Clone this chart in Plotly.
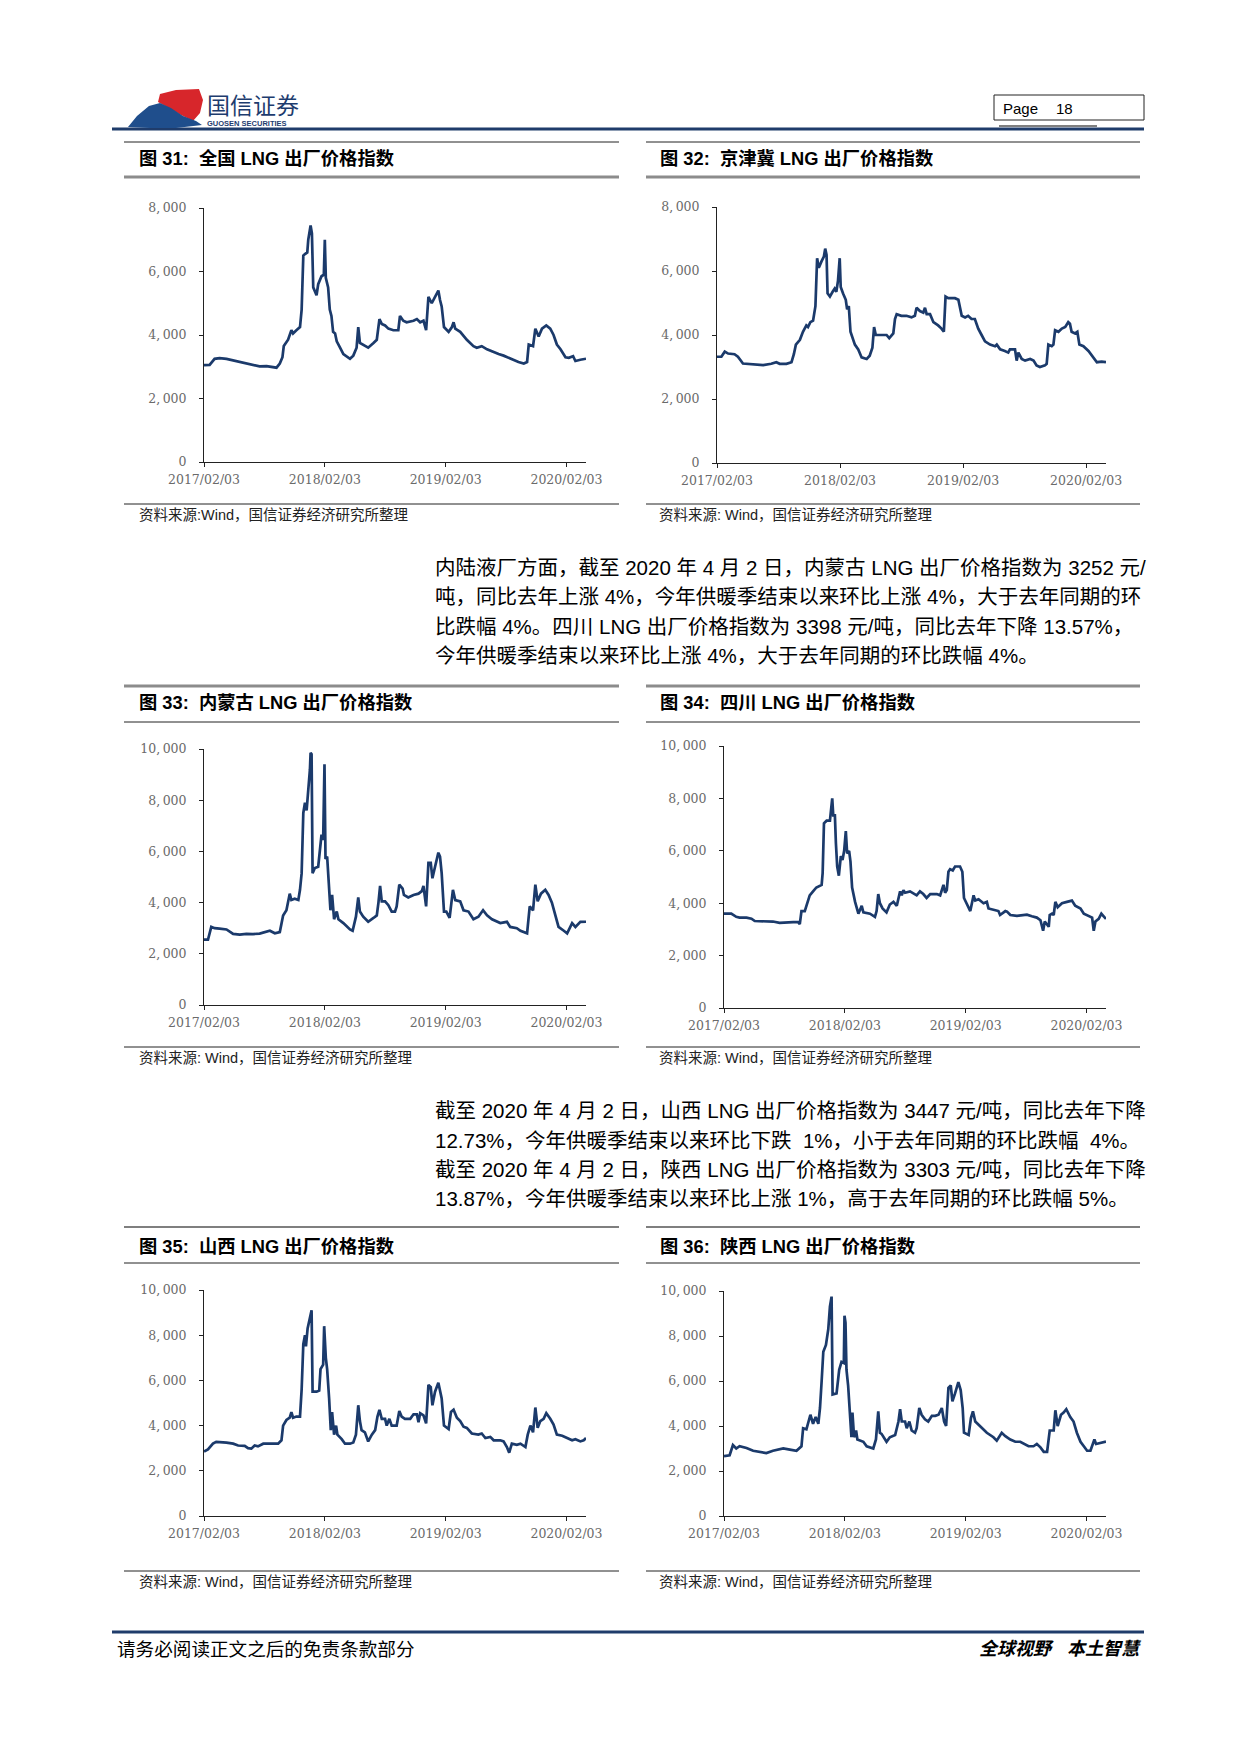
import plotly.graph_objects as go

# ---------------- DATA ----------------
x_tick_vals = ["2017-02-03", "2018-02-03", "2019-02-03", "2020-02-03"]
x_tick_text = ["2017/02/03", "2018/02/03", "2019/02/03", "2020/02/03"]
y_ticks_8k = [0, 2000, 4000, 6000, 8000]
y_ticks_10k = [0, 2000, 4000, 6000, 8000, 10000]

dates_quanguo = ["2017-02-03","2017-02-20","2017-03-07","2017-03-22","2017-04-12","2017-05-02","2017-05-22","2017-06-11","2017-07-01","2017-07-21",
    "2017-08-11","2017-08-31","2017-09-10","2017-09-20","2017-09-28","2017-10-02","2017-10-15","2017-10-25","2017-10-30","2017-11-09",
    "2017-11-20","2017-11-25","2017-11-30","2017-12-05","2017-12-12","2017-12-15","2017-12-22","2017-12-26","2017-12-30","2018-01-09",
    "2018-01-14","2018-01-24","2018-01-31","2018-02-03","2018-02-06","2018-02-13","2018-02-18","2018-02-23","2018-02-28","2018-03-06",
    "2018-03-11","2018-03-21","2018-03-31","2018-04-20","2018-04-30","2018-05-10","2018-05-15","2018-05-20","2018-05-30","2018-06-14",
    "2018-06-30","2018-07-10","2018-07-18","2018-07-25","2018-08-04","2018-08-14","2018-08-29","2018-09-13","2018-09-18","2018-09-28",
    "2018-10-08","2018-10-29","2018-11-08","2018-11-18","2018-11-28","2018-12-06","2018-12-13","2018-12-23","2019-01-02","2019-01-12",
    "2019-01-17","2019-01-22","2019-01-29","2019-02-12","2019-02-22","2019-02-27","2019-03-04","2019-03-19","2019-04-08","2019-04-28",
    "2019-05-08","2019-05-23","2019-06-08","2019-06-28","2019-07-13","2019-07-28","2019-08-17","2019-09-01","2019-09-11","2019-09-27",
    "2019-10-07","2019-10-12","2019-10-25","2019-11-01","2019-11-11","2019-11-21","2019-12-04","2019-12-16","2019-12-26","2020-01-05",
    "2020-01-16","2020-01-31","2020-02-10","2020-02-23","2020-03-01","2020-03-16","2020-04-02"]
price_quanguo = [3050,3060,3250,3270,3250,3200,3150,3110,3050,3010,
    3020,2990,2970,3100,3300,3650,3850,4150,4050,4150,
    4250,4800,6500,6550,6600,7000,7450,7200,5500,5250,
    5600,5850,5900,7000,5800,5500,4800,4600,4100,4050,
    3800,3600,3400,3250,3350,3600,4250,3750,3700,3600,
    3750,3850,4500,4350,4300,4200,4150,4150,4600,4450,
    4400,4450,4500,4400,4450,4150,5200,5000,5200,5400,
    5100,4900,4250,4100,4250,4400,4200,4100,3850,3650,
    3600,3650,3550,3450,3400,3350,3250,3200,3150,3100,
    3150,3700,3650,4200,3950,4200,4300,4200,4000,3700,
    3550,3300,3280,3330,3180,3220,3252]

dates_jingjinji = ["2017-02-03","2017-02-16","2017-02-26","2017-03-08","2017-03-27","2017-04-06","2017-04-21","2017-05-11","2017-05-31","2017-06-20",
    "2017-07-14","2017-07-29","2017-08-08","2017-08-28","2017-09-12","2017-09-19","2017-09-25","2017-10-07","2017-10-16","2017-10-26",
    "2017-10-31","2017-11-07","2017-11-15","2017-11-22","2017-11-27","2017-12-02","2017-12-10","2017-12-17","2017-12-21","2017-12-25",
    "2017-12-28","2018-01-04","2018-01-12","2018-01-18","2018-01-23","2018-01-28","2018-02-02","2018-02-05","2018-02-12","2018-02-20",
    "2018-02-24","2018-03-01","2018-03-06","2018-03-11","2018-03-19","2018-03-29","2018-04-08","2018-04-23","2018-05-02","2018-05-10",
    "2018-05-15","2018-05-20","2018-06-01","2018-06-21","2018-06-29","2018-07-11","2018-07-16","2018-07-21","2018-08-04","2018-08-19",
    "2018-09-03","2018-09-13","2018-09-18","2018-09-28","2018-10-08","2018-10-13","2018-10-18","2018-10-28","2018-11-07","2018-11-21",
    "2018-12-01","2018-12-08","2018-12-13","2018-12-21","2019-01-10","2019-01-20","2019-01-30","2019-02-09","2019-02-18","2019-02-28",
    "2019-03-10","2019-03-20","2019-03-30","2019-04-09","2019-04-24","2019-05-09","2019-05-14","2019-05-24","2019-06-07","2019-06-17",
    "2019-06-22","2019-07-07","2019-07-12","2019-07-17","2019-07-27","2019-08-06","2019-08-21","2019-08-31","2019-09-09","2019-09-19",
    "2019-10-04","2019-10-09","2019-10-14","2019-10-24","2019-10-29","2019-11-03","2019-11-13","2019-11-23","2019-12-03","2019-12-12",
    "2019-12-17","2019-12-22","2020-01-01","2020-01-08","2020-01-14","2020-01-26","2020-02-10","2020-02-25","2020-03-06","2020-03-20",
    "2020-04-02"]
price_jingjinji = [3320,3320,3480,3420,3400,3320,3110,3100,3080,3060,
    3100,3150,3100,3100,3150,3400,3700,3850,4100,4300,
    4250,4400,4450,4900,6400,6100,6300,6450,6700,6500,
    5300,5200,5350,5450,5350,5700,6400,5500,5300,5100,
    4800,4900,4100,3950,3700,3550,3300,3250,3350,3600,
    4250,4000,4000,4000,3900,4050,4500,4650,4600,4600,
    4550,4600,4850,4750,4700,4850,4650,4650,4400,4300,
    4200,4100,5200,5150,5150,5100,4600,4550,4600,4500,
    4500,4200,4000,3800,3700,3650,3700,3550,3500,3450,
    3550,3550,3200,3450,3250,3200,3250,3200,3050,3000,
    3050,3100,3700,3650,3700,4150,4100,4200,4250,4400,
    4350,4100,4050,4100,3700,3650,3500,3300,3150,3170,
    3150]

dates_neimenggu = ["2017-02-03","2017-02-15","2017-02-25","2017-03-07","2017-03-22","2017-04-12","2017-05-02","2017-05-22","2017-06-11","2017-07-01",
    "2017-07-21","2017-08-11","2017-08-21","2017-09-05","2017-09-20","2017-09-30","2017-10-10","2017-10-20","2017-10-25","2017-11-04",
    "2017-11-15","2017-11-20","2017-11-25","2017-11-30","2017-12-05","2017-12-10","2017-12-15","2017-12-20","2017-12-22","2017-12-25",
    "2017-12-28","2018-01-04","2018-01-14","2018-01-19","2018-01-24","2018-01-29","2018-02-02","2018-02-05","2018-02-10","2018-02-15",
    "2018-02-20","2018-02-25","2018-03-03","2018-03-11","2018-03-16","2018-03-31","2018-04-20","2018-04-28","2018-05-08","2018-05-15",
    "2018-05-20","2018-05-30","2018-06-14","2018-06-30","2018-07-10","2018-07-15","2018-07-20","2018-07-25","2018-08-04","2018-08-14",
    "2018-08-24","2018-09-03","2018-09-08","2018-09-16","2018-09-26","2018-09-30","2018-10-13","2018-10-29","2018-11-13","2018-11-23",
    "2018-11-28","2018-12-06","2018-12-13","2018-12-20","2018-12-25","2019-01-02","2019-01-12","2019-01-17","2019-01-22","2019-01-29",
    "2019-02-05","2019-02-15","2019-02-25","2019-03-04","2019-03-19","2019-03-29","2019-04-13","2019-04-28","2019-05-13","2019-05-27",
    "2019-06-08","2019-06-23","2019-07-18","2019-08-07","2019-08-17","2019-09-06","2019-09-17","2019-10-07","2019-10-15","2019-10-25",
    "2019-11-01","2019-11-08","2019-11-18","2019-12-01","2019-12-11","2019-12-21","2019-12-31","2020-01-10","2020-01-26","2020-02-05",
    "2020-02-20","2020-03-01","2020-03-16","2020-04-02"]
price_neimenggu = [2550,2550,3050,3000,2980,2950,2780,2750,2780,2770,
    2790,2850,2900,2800,2850,3500,3700,4350,4100,4150,
    4100,4500,5150,7500,7900,7600,8350,9200,9850,9800,
    5150,5350,5400,6050,6650,6450,9400,5700,5800,4750,
    3700,4300,3350,3650,3350,3200,2950,2900,3450,4200,
    3650,3450,3250,3400,3500,4000,4650,4050,4050,3900,
    3650,3650,3850,4700,4550,4300,4200,4300,4350,4450,
    4650,3850,5550,5550,4950,5400,5950,5800,5150,3650,
    3650,3400,4500,4100,4050,3700,3650,3350,3450,3700,
    3500,3350,3200,3250,3050,3000,2900,2800,3850,3700,
    4700,4050,4350,4500,4300,4000,3500,3050,2900,2800,
    3200,3050,3250,3252]

dates_sichuan = ["2017-02-03","2017-02-25","2017-03-12","2017-03-22","2017-04-12","2017-04-27","2017-05-07","2017-06-01","2017-07-01","2017-07-21",
    "2017-08-11","2017-08-31","2017-09-15","2017-09-20","2017-09-25","2017-10-05","2017-10-10","2017-10-20","2017-10-30","2017-11-09",
    "2017-11-25","2017-11-28","2017-12-02","2017-12-10","2017-12-20","2017-12-23","2017-12-27","2017-12-30","2018-01-04","2018-01-07",
    "2018-01-11","2018-01-16","2018-01-22","2018-01-27","2018-02-01","2018-02-06","2018-02-10","2018-02-16","2018-02-20","2018-02-25",
    "2018-03-06","2018-03-16","2018-03-21","2018-03-26","2018-03-31","2018-04-20","2018-05-05","2018-05-10","2018-05-15","2018-05-20",
    "2018-05-28","2018-06-09","2018-06-19","2018-06-30","2018-07-10","2018-07-15","2018-07-20","2018-07-25","2018-07-30","2018-08-04",
    "2018-08-19","2018-09-08","2018-09-18","2018-09-28","2018-10-08","2018-10-19","2018-11-08","2018-11-18","2018-11-28","2018-12-03",
    "2018-12-08","2018-12-13","2018-12-18","2018-12-26","2019-01-02","2019-01-17","2019-01-24","2019-01-29","2019-02-07","2019-02-17",
    "2019-02-27","2019-03-04","2019-03-14","2019-03-29","2019-04-08","2019-04-13","2019-04-28","2019-05-13","2019-05-18","2019-06-03",
    "2019-06-08","2019-06-18","2019-07-08","2019-07-23","2019-08-07","2019-08-22","2019-09-06","2019-09-17","2019-09-22","2019-09-25",
    "2019-09-30","2019-10-05","2019-10-12","2019-10-15","2019-10-22","2019-10-27","2019-11-01","2019-11-08","2019-11-21","2019-12-06",
    "2019-12-21","2019-12-31","2020-01-16","2020-01-26","2020-02-10","2020-02-20","2020-02-25","2020-03-01","2020-03-11","2020-03-19",
    "2020-03-26","2020-04-02"]
price_sichuan = [3600,3600,3480,3450,3450,3410,3320,3300,3300,3250,
    3280,3280,3280,3200,3700,3700,3900,4300,4450,4600,
    4700,5150,7050,7150,7150,7500,8000,7350,7350,6300,
    5400,5050,5800,5650,6000,6750,5900,6000,5600,4600,
    4050,3600,3750,3900,3650,3600,3480,3700,4350,4000,
    3800,3650,3950,4050,3900,4200,4450,4300,4500,4400,
    4450,4300,4450,4350,4200,4350,4350,4300,4700,4400,
    4500,5200,5300,5250,5400,5400,5200,4200,3950,3700,
    4300,4100,4150,4000,4050,3800,3750,3700,3550,3700,
    3680,3550,3520,3550,3560,3500,3450,3350,3100,2950,
    3300,3200,3100,3550,3600,3550,4050,3850,4000,4050,
    4100,3900,3800,3600,3500,3450,2950,3300,3400,3600,
    3500,3398]

dates_shanxi = ["2017-02-03","2017-02-15","2017-03-02","2017-03-12","2017-04-12","2017-05-02","2017-05-17","2017-06-06","2017-06-16","2017-06-26",
    "2017-07-06","2017-07-16","2017-08-01","2017-08-31","2017-09-15","2017-09-25","2017-09-30","2017-10-10","2017-10-20","2017-10-25",
    "2017-10-30","2017-11-09","2017-11-20","2017-11-25","2017-11-30","2017-12-05","2017-12-08","2017-12-13","2017-12-20","2017-12-25",
    "2017-12-28","2018-01-09","2018-01-17","2018-01-21","2018-01-29","2018-02-01","2018-02-06","2018-02-10","2018-02-16","2018-02-21",
    "2018-02-25","2018-03-03","2018-03-09","2018-03-13","2018-03-26","2018-04-05","2018-04-20","2018-04-30","2018-05-08","2018-05-15",
    "2018-05-20","2018-05-25","2018-06-04","2018-06-14","2018-06-25","2018-07-05","2018-07-12","2018-07-18","2018-07-25","2018-08-04",
    "2018-08-09","2018-08-17","2018-08-24","2018-09-08","2018-09-16","2018-09-23","2018-10-03","2018-10-19","2018-10-29","2018-11-08",
    "2018-11-13","2018-11-18","2018-11-28","2018-12-06","2018-12-13","2018-12-20","2018-12-25","2019-01-02","2019-01-12","2019-01-17",
    "2019-01-22","2019-01-29","2019-02-12","2019-02-19","2019-02-27","2019-03-09","2019-03-19","2019-03-29","2019-04-08","2019-04-23",
    "2019-05-13","2019-05-23","2019-06-03","2019-06-18","2019-06-28","2019-07-18","2019-07-28","2019-08-07","2019-08-14","2019-08-22",
    "2019-09-06","2019-09-17","2019-10-02","2019-10-09","2019-10-17","2019-10-25","2019-11-01","2019-11-08","2019-11-16","2019-11-26",
    "2019-12-04","2019-12-16","2019-12-26","2020-01-05","2020-01-21","2020-02-05","2020-02-20","2020-03-01","2020-03-16","2020-03-26",
    "2020-04-02"]
price_shanxi = [2850,2950,3200,3280,3250,3200,3120,3100,3000,2980,
    3120,3080,3200,3200,3200,3350,4000,4250,4350,4600,
    4350,4400,4400,5600,7600,8000,7500,8300,8800,9100,
    5500,5500,5550,6500,6700,8400,7000,6500,5200,3800,
    4600,3600,4000,3600,3400,3200,3200,3250,3600,4900,
    4200,3800,3700,3300,3600,3800,4400,4700,4300,4300,
    4000,4300,4000,4000,4650,4400,4300,4300,4500,4500,
    4150,4550,4450,4100,5800,5700,4900,5500,5900,5600,
    5200,4000,3850,4600,4700,4350,4200,3950,3900,3650,
    3600,3650,3450,3500,3350,3350,3300,3050,2800,3200,
    3150,3200,3050,3600,4000,3700,4800,3900,4200,4300,
    4550,4300,4050,3600,3550,3450,3350,3400,3300,3350,
    3447]

dates_shaanxi = ["2017-02-03","2017-02-20","2017-03-02","2017-03-12","2017-03-22","2017-04-12","2017-05-02","2017-05-22","2017-06-11","2017-07-01",
    "2017-08-01","2017-08-21","2017-09-10","2017-09-25","2017-09-30","2017-10-10","2017-10-22","2017-10-30","2017-11-07","2017-11-15",
    "2017-11-20","2017-11-25","2017-11-30","2017-12-08","2017-12-15","2017-12-20","2017-12-25","2017-12-28","2018-01-09","2018-01-17",
    "2018-01-24","2018-01-31","2018-02-02","2018-02-05","2018-02-08","2018-02-13","2018-02-18","2018-02-23","2018-02-26","2018-03-03",
    "2018-03-09","2018-03-13","2018-03-31","2018-04-10","2018-04-30","2018-05-08","2018-05-15","2018-05-20","2018-05-25","2018-06-09",
    "2018-06-19","2018-07-05","2018-07-15","2018-07-20","2018-07-25","2018-08-04","2018-08-09","2018-08-17","2018-08-24","2018-09-03",
    "2018-09-08","2018-09-16","2018-09-23","2018-10-03","2018-10-13","2018-10-24","2018-11-03","2018-11-13","2018-11-23","2018-11-30",
    "2018-12-06","2018-12-13","2018-12-20","2018-12-25","2019-01-02","2019-01-12","2019-01-19","2019-01-25","2019-01-29","2019-02-12",
    "2019-02-19","2019-02-25","2019-03-04","2019-03-19","2019-03-29","2019-04-08","2019-04-28","2019-05-08","2019-05-23","2019-06-03",
    "2019-06-18","2019-07-03","2019-07-18","2019-08-02","2019-08-12","2019-08-27","2019-09-06","2019-09-17","2019-09-27","2019-10-07",
    "2019-10-15","2019-10-27","2019-11-01","2019-11-08","2019-11-18","2019-11-26","2019-12-04","2019-12-16","2019-12-26","2020-01-05",
    "2020-01-16","2020-01-26","2020-02-05","2020-02-15","2020-02-23","2020-02-27","2020-03-03","2020-03-16","2020-04-02"]
price_shaanxi = [2660,2700,3150,3000,3100,3020,2900,2850,2800,2900,
    3000,2950,2900,3100,3900,3850,4500,4100,4400,4100,
    4800,6000,7300,7600,8300,9300,9750,5400,5450,6500,
    6850,6800,8900,8600,6500,5800,4700,3500,4600,3500,
    3800,3400,3300,3100,3000,3400,4650,3700,3650,3300,
    3500,3600,4200,4750,4200,4200,3900,4200,3800,3700,
    3900,4800,4500,4300,4200,4450,4450,4500,4800,4200,
    4000,5700,5800,5100,5450,5950,5600,4800,3700,3600,
    4350,4650,4200,4000,3850,3700,3500,3350,3700,3550,
    3400,3300,3300,3200,3100,3100,3200,3050,2850,2850,
    3800,3800,4700,4000,4500,4600,4750,4400,4200,3700,
    3300,3100,2900,2900,3300,3400,3200,3250,3303]

# ---------------- PAGE GEOMETRY ----------------
W, H = 1241, 1754


def fx(x):
    return x / W


def fy(y):
    return 1 - y / H


LINE_COLOR = "#1b3a6b"
CJK = "Liberation Sans, Arial, Noto Sans CJK SC, sans-serif"
TICKFONT = dict(family="DejaVu Serif, Liberation Serif, serif", size=12.5, color="#6a6a6a")

charts = [
    dict(dates=dates_quanguo, vals=price_quanguo, x0=204, x1=586, ytop=208, ybot=462, ymax=8000, yt=y_ticks_8k,
         title="图 31:\u00a0 全国 LNG 出厂价格指数", tx=137, ty=159,
         cap="资料来源:Wind，国信证券经济研究所整理", cx=137, cy=515, lx0=124, lx1=619, ly=504),
    dict(dates=dates_jingjinji, vals=price_jingjinji, x0=717, x1=1106, ytop=207, ybot=463, ymax=8000, yt=y_ticks_8k,
         title="图 32:\u00a0 京津冀 LNG 出厂价格指数", tx=658, ty=159,
         cap="资料来源: Wind，国信证券经济研究所整理", cx=657, cy=515, lx0=646, lx1=1140, ly=504),
    dict(dates=dates_neimenggu, vals=price_neimenggu, x0=204, x1=586, ytop=749, ybot=1005, ymax=10000, yt=y_ticks_10k,
         title="图 33:\u00a0 内蒙古 LNG 出厂价格指数", tx=137, ty=703,
         cap="资料来源: Wind，国信证券经济研究所整理", cx=137, cy=1058, lx0=124, lx1=619, ly=1047),
    dict(dates=dates_sichuan, vals=price_sichuan, x0=724, x1=1106, ytop=746, ybot=1008, ymax=10000, yt=y_ticks_10k,
         title="图 34:\u00a0 四川 LNG 出厂价格指数", tx=658, ty=703,
         cap="资料来源: Wind，国信证券经济研究所整理", cx=657, cy=1058, lx0=646, lx1=1140, ly=1047),
    dict(dates=dates_shanxi, vals=price_shanxi, x0=204, x1=586, ytop=1290, ybot=1516, ymax=10000, yt=y_ticks_10k,
         title="图 35:\u00a0 山西 LNG 出厂价格指数", tx=137, ty=1246,
         cap="资料来源: Wind，国信证券经济研究所整理", cx=137, cy=1582, lx0=124, lx1=619, ly=1571),
    dict(dates=dates_shaanxi, vals=price_shaanxi, x0=724, x1=1106, ytop=1291, ybot=1516, ymax=10000, yt=y_ticks_10k,
         title="图 36:\u00a0 陕西 LNG 出厂价格指数", tx=658, ty=1246,
         cap="资料来源: Wind，国信证券经济研究所整理", cx=657, cy=1582, lx0=646, lx1=1140, ly=1571),
]

fig = go.Figure()
layout = dict(
    width=W, height=H, margin=dict(l=0, r=0, t=0, b=0, pad=0, autoexpand=False),
    paper_bgcolor="white", plot_bgcolor="rgba(0,0,0,0)",
    showlegend=False, font=dict(family=CJK, color="black"),
)
annotations = []
shapes = []


def hline(x0, x1, y, color="black", width=1):
    shapes.append(dict(type="line", xref="paper", yref="paper", x0=fx(x0), x1=fx(x1),
                       y0=fy(y), y1=fy(y), line=dict(color=color, width=width)))


def text(s, x, y, size, xanchor="left", bold=False, italic=False, color="black", family=CJK):
    t = s
    if bold:
        t = "<b>" + t + "</b>"
    if italic:
        t = "<i>" + t + "</i>"
    annotations.append(dict(text=t, x=fx(x), y=fy(y), xref="paper", yref="paper", showarrow=False,
                            xanchor=xanchor, yanchor="middle", font=dict(size=size, color=color, family=family)))


def fmt_tick(v):
    return "{:,}".format(v).replace(",", ",\u2009")


for i, c in enumerate(charts, start=1):
    if len(c["dates"]) != len(c["vals"]):
        raise ValueError(f"chart {i}: {len(c['dates'])} dates vs {len(c['vals'])} values")
    sfx = "" if i == 1 else str(i)
    fig.add_trace(go.Scatter(x=c["dates"], y=c["vals"], mode="lines", xaxis="x" + sfx, yaxis="y" + sfx,
                             line=dict(color=LINE_COLOR, width=2.7), hoverinfo="skip"))
    layout["xaxis" + sfx] = dict(
        domain=[fx(c["x0"]), fx(c["x1"])], anchor="y" + sfx, type="date", automargin=False,
        range=["2017-02-03", "2020-04-02"], tickmode="array", tickvals=x_tick_vals, ticktext=x_tick_text,
        showline=True, linecolor="#222222", linewidth=1, ticks="outside", ticklen=4, tickcolor="#222222",
        showgrid=False, zeroline=False, tickfont=TICKFONT, fixedrange=True, ticklabelstandoff=2)
    layout["yaxis" + sfx] = dict(
        domain=[fy(c["ybot"]), fy(c["ytop"])], anchor="x" + sfx, range=[0, c["ymax"]], automargin=False,
        tickmode="array", tickvals=c["yt"], ticktext=[fmt_tick(v) for v in c["yt"]],
        showline=True, linecolor="#222222", linewidth=1, ticks="outside", ticklen=4, tickcolor="#222222",
        showgrid=False, zeroline=False, tickfont=TICKFONT, fixedrange=True, ticklabelstandoff=10)
    text(c["title"], c["tx"], c["ty"], 18.3, bold=True)
    text(c["cap"], c["cx"], c["cy"], 14.5, color="#222222")
    hline(c["lx0"], c["lx1"], c["ly"], "#222222", 1)

for (lx0, lx1) in [(124, 619), (646, 1140)]:
    hline(lx0, lx1, 142, "#222222", 1)
    hline(lx0, lx1, 177, "#8c8c8c", 3)
    hline(lx0, lx1, 686, "#8c8c8c", 3)
    hline(lx0, lx1, 722, "#222222", 1)
    hline(lx0, lx1, 1227, "#555555", 1.5)
    hline(lx0, lx1, 1263, "#222222", 1)

para1 = [
    "内陆液厂方面，截至 2020 年 4 月 2 日，内蒙古 LNG 出厂价格指数为 3252 元/",
    "吨，同比去年上涨 4%，今年供暖季结束以来环比上涨 4%，大于去年同期的环",
    "比跌幅 4%。四川 LNG 出厂价格指数为 3398 元/吨，同比去年下降 13.57%，",
    "今年供暖季结束以来环比上涨 4%，大于去年同期的环比跌幅 4%。",
]
para2 = [
    "截至 2020 年 4 月 2 日，山西 LNG 出厂价格指数为 3447 元/吨，同比去年下降",
    "12.73%，今年供暖季结束以来环比下跌\u00a0 1%，小于去年同期的环比跌幅\u00a0 4%。",
    "截至 2020 年 4 月 2 日，陕西 LNG 出厂价格指数为 3303 元/吨，同比去年下降",
    "13.87%，今年供暖季结束以来环比上涨 1%，高于去年同期的环比跌幅 5%。",
]
for s, y in zip(para1, [567, 596, 626, 655]):
    text(s, 433, y, 20.5)
for s, y in zip(para2, [1110, 1140, 1169, 1198]):
    text(s, 433, y, 20.5)

hline(112, 1144, 129, "#1f3c6b", 3)
hline(999, 1097, 126, "#555555", 1.5)
shapes.append(dict(type="rect", xref="paper", yref="paper", x0=fx(994), x1=fx(1144), y0=fy(120), y1=fy(95),
                   line=dict(color="#222222", width=1), fillcolor="white"))
text("Page", 1001, 108, 15, family="Liberation Sans, Arial")
text("18", 1054, 108, 15, family="Liberation Sans, Arial")


def poly(points, color):
    d = "M " + " L ".join(f"{fx(x):.5f},{fy(y):.5f}" for x, y in points) + " Z"
    shapes.append(dict(type="path", xref="paper", yref="paper", path=d, fillcolor=color, line=dict(width=0)))


poly([(160, 94), (176, 90), (199, 89), (203, 100), (200, 113), (193, 121), (181, 115), (169, 108), (158, 102)], "#d7262b")
poly([(128, 127), (137, 116), (149, 106), (160, 103), (171, 108), (183, 116), (196, 121), (202, 125), (176, 128), (150, 128)], "#1f4e8c")
text("国信证券", 205, 104, 23, color="#1d3c6e", family="Noto Sans CJK SC")
text("GUOSEN SECURITIES", 205, 123, 7.5, bold=True, color="#1d3c6e", family="Liberation Sans Narrow, Liberation Sans")

hline(112, 1144, 1632, "#1f3c6b", 3)
text("请务必阅读正文之后的免责条款部分", 115, 1649, 18.6)
text("全球视野", 977, 1649, 18, bold=True, italic=True)
text("本土智慧", 1144, 1649, 18, xanchor="right", bold=True, italic=True)

layout["annotations"] = annotations
layout["shapes"] = shapes
fig.update_layout(**layout)

fig.write_html("out.html", post_script="document.body.style.margin='0';", config={"displayModeBar": False})
